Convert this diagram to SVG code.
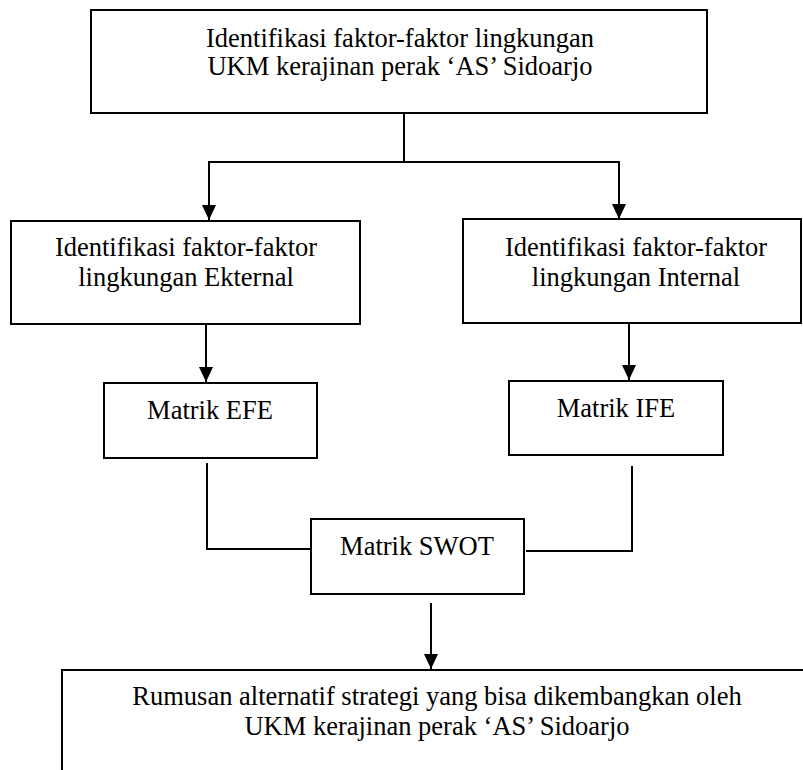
<svg xmlns="http://www.w3.org/2000/svg" width="803" height="770" viewBox="0 0 803 770">
<style>
.box{fill:#fff;stroke:#000;stroke-width:2}
.t{font-family:"Liberation Serif","Times New Roman",serif;font-size:26.5px;fill:#000;text-anchor:middle}
.c{fill:none;stroke:#000;stroke-width:2}
</style>
<defs>
<marker id="ah" markerUnits="userSpaceOnUse" markerWidth="15" markerHeight="14" refX="15" refY="7" orient="auto">
<path d="M0,0 L15,7 L0,14 z" fill="#000"/>
</marker>
</defs>
<rect width="803" height="770" fill="#fff"/>
<g id="connectors">
<path class="c" d="M404,113 V162"/>
<path class="c" d="M208,162 H620"/>
<path class="c" d="M209,162 V220" marker-end="url(#ah)"/>
<path class="c" d="M619,162 V219" marker-end="url(#ah)"/>
<path class="c" d="M206,324 V382" marker-end="url(#ah)"/>
<path class="c" d="M629,323 V380" marker-end="url(#ah)"/>
<path class="c" d="M207,463 V549 H312"/>
<path class="c" d="M632,466 V551 H526"/>
<path class="c" d="M431,603 V669" marker-end="url(#ah)"/>
</g>
<g id="node-top">
<rect class="box" x="91" y="10" width="616" height="103"/>
<text class="t" x="400" y="47">Identifikasi faktor-faktor lingkungan</text>
<text class="t" x="400" y="75">UKM kerajinan perak ‘AS’ Sidoarjo</text>
</g>
<g id="node-eksternal">
<rect class="box" x="11" y="221" width="349" height="103"/>
<text class="t" x="186" y="256">Identifikasi faktor-faktor</text>
<text class="t" x="186" y="286">lingkungan Ekternal</text>
</g>
<g id="node-internal">
<rect class="box" x="463" y="219" width="338" height="104"/>
<text class="t" x="636" y="256">Identifikasi faktor-faktor</text>
<text class="t" x="636" y="286">lingkungan Internal</text>
</g>
<g id="node-efe">
<rect class="box" x="104" y="383" width="213" height="75"/>
<text class="t" x="210" y="419">Matrik EFE</text>
</g>
<g id="node-ife">
<rect class="box" x="509" y="381" width="214" height="74"/>
<text class="t" x="616" y="417">Matrik IFE</text>
</g>
<g id="node-swot">
<rect class="box" x="311" y="519" width="213" height="75"/>
<text class="t" x="417" y="555">Matrik SWOT</text>
</g>
<g id="node-rumusan">
<path class="c" d="M62,770 V670 H803"/>
<text class="t" x="437" y="705">Rumusan alternatif strategi yang bisa dikembangkan oleh</text>
<text class="t" x="437" y="735">UKM kerajinan perak ‘AS’ Sidoarjo</text>
</g>
</svg>
